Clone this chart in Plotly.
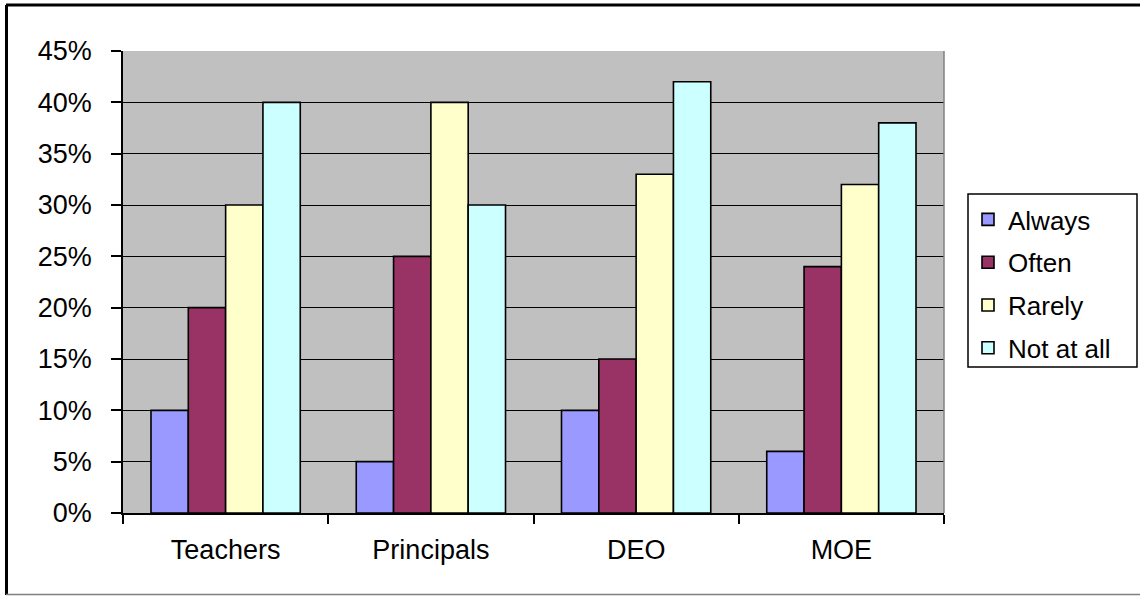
import plotly.graph_objects as go

# Survey responses by group
groups = ["Teachers", "Principals", "DEO", "MOE"]
series_names = ["Always", "Often", "Rarely", "Not at all"]
always = [0.10, 0.05, 0.10, 0.06]
often = [0.20, 0.25, 0.15, 0.24]
rarely = [0.30, 0.40, 0.33, 0.32]
not_at_all = [0.40, 0.30, 0.42, 0.38]
y_ticks = [0, 0.05, 0.10, 0.15, 0.20, 0.25, 0.30, 0.35, 0.40, 0.45]

colors = ["#9999FF", "#993366", "#FFFFCC", "#CCFFFF"]
FONT = "Liberation Sans, Arial, sans-serif"
FS = 27

fig = go.Figure()
for name, vals, col in zip(series_names, [always, often, rarely, not_at_all], colors):
    fig.add_trace(go.Bar(
        name=name, x=groups, y=vals, legendgroup=name,
        marker=dict(color=col, line=dict(color="black", width=1.6)),
    ))

W, H = 1140, 596
L, R, T, B = 123, 944, 51, 513


def px_x(p):
    return (p - L) / (R - L)


def px_y(p):
    return (B - p) / (B - T)


shapes = [
    # right edge of the plot area
    dict(type="line", xref="paper", yref="paper", x0=1, x1=1, y0=0, y1=1,
         line=dict(color="#808080", width=1.5)),
    # chart frame: top and left dark, bottom grey
    dict(type="line", xref="paper", yref="paper", x0=px_x(6), x1=px_x(1150),
         y0=px_y(5), y1=px_y(5), line=dict(color="black", width=3)),
    dict(type="line", xref="paper", yref="paper", x0=px_x(6.5), x1=px_x(6.5),
         y0=px_y(5), y1=px_y(595), line=dict(color="black", width=3)),
    dict(type="line", xref="paper", yref="paper", x0=px_x(6), x1=px_x(1150),
         y0=px_y(594.5), y1=px_y(594.5), line=dict(color="#808080", width=1.5)),
    # legend frame
    dict(type="rect", xref="paper", yref="paper", layer="above",
         x0=px_x(968), x1=px_x(1137), y0=px_y(194), y1=px_y(367),
         fillcolor="white", line=dict(color="black", width=1.5)),
]

fig.update_layout(
    width=W, height=H,
    margin=dict(l=L, r=W - R, t=T, b=H - B, pad=0),
    paper_bgcolor="white",
    plot_bgcolor="#C0C0C0",
    barmode="group",
    bargap=1.5 / 5.5,
    bargroupgap=0,
    font=dict(family=FONT, size=FS, color="black"),
    showlegend=True,
    legend=dict(
        x=px_x(968), y=px_y(196), xanchor="left", yanchor="top",
        bgcolor="rgba(0,0,0,0)", borderwidth=0,
        font=dict(family=FONT, size=FS - 1, color="black"),
        tracegroupgap=6,
    ),
    shapes=shapes,
    xaxis=dict(
        type="category", tickson="boundaries",
        ticks="outside", ticklen=9, tickcolor="black", tickwidth=1.5,
        showline=True, linecolor="black", linewidth=1.5,
        showgrid=False, tickfont=dict(size=FS),
        ticklabelstandoff=12, automargin=False,
    ),
    yaxis=dict(
        range=[0, 0.45], tickvals=y_ticks, tickformat=".0%",
        ticks="outside", ticklen=10, tickcolor="black", tickwidth=1.5,
        showline=True, linecolor="black", linewidth=1.5,
        showgrid=True, gridcolor="black", gridwidth=1.2,
        zeroline=False, tickfont=dict(size=FS),
        ticklabelstandoff=14, automargin=False,
    ),
)

fig.write_html("out.html")
